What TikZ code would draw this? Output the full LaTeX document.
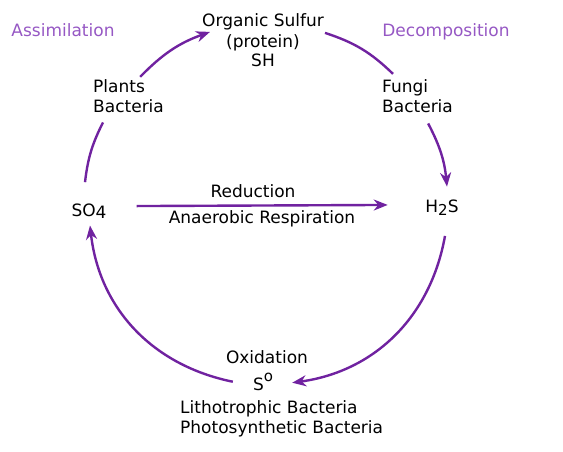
\documentclass[tikz,border=0pt]{standalone}
\usepackage{fontspec}
\setmainfont{DejaVu Sans}
\usetikzlibrary{arrows.meta}
\definecolor{cyclepurple}{RGB}{112,34,160}
\definecolor{labelpurple}{RGB}{150,88,196}
\begin{document}
\begin{tikzpicture}[x=1pt, y=1pt,
    font=\fontsize{17}{20}\selectfont,
    every node/.style={inner sep=0pt},
    cycle/.style={cyclepurple, line width=2.4pt},
    tip/.style={-{Stealth[length=14pt, width=11pt, inset=4.5pt]}},
    process/.style={text=labelpurple}]
% keep the frame of the reference
\useasboundingbox (0,0) rectangle (563,-452);

% process names
\node[process, anchor=base] (assim) at (63,-37) {Assimilation};
\node[process, anchor=base] (decomp) at (446,-37) {Decomposition};

% sulfur compounds and organisms (base = last line)
\node[align=center, anchor=base] (organic) at (263,-67) {Organic Sulfur\\(protein)\\SH};
\node[align=left, anchor=base west] (plants) at (93,-113) {Plants\\Bacteria};
\node[align=left, anchor=base west] (fungi) at (382,-113) {Fungi\\Bacteria};
\node[anchor=base] (so4) at (89,-216) {SO\raisebox{-.25ex}{4}};
\node[anchor=base] (h2s) at (442,-212) {H\raisebox{-.4ex}{\fontsize{15}{15}\selectfont 2}S};
\node[anchor=base] (reduct) at (253,-197) {Reduction};
\node[anchor=base] (anaer) at (262,-223) {Anaerobic Respiration};
\node[anchor=base] (oxid) at (267,-363) {Oxidation};
\node[anchor=base] (s0) at (263,-390) {S\raisebox{.9ex}{\fontsize{15}{15}\selectfont o}};
\node[align=left, anchor=base west] (litho) at (180,-433) {Lithotrophic Bacteria\\Photosynthetic Bacteria};

% the cycle
\draw[cycle] ([shift={(-4,21)}]so4.north) to[bend left=10] ([shift={(10,-9)}]plants.south west);
\draw[cycle, tip] ([shift={(11.6,3)}]plants.north) to[bend left=13] ([shift={(8,-18)}]organic.north west);
\draw[cycle] ([shift={(1,-19)}]organic.north east) to[bend left=13] ([shift={(11,6)}]fungi.north west);
\draw[cycle, tip] ([shift={(10.6,-10)}]fungi.south) to[bend left=11] ([shift={(5,12.6)}]h2s.north);
\draw[cycle, tip] ([shift={(3,-20)}]h2s.south) to[bend left=36] ([shift={(19,-1)}]s0.east);
\draw[cycle, tip] ([shift={(-20,0)}]s0.west) to[bend left=36] ([shift={(1,-7)}]so4.south);
\draw[cycle, tip] ([shift={(30,4.8)}]so4.east) -- ([shift={(-37.5,2.6)}]h2s.west);
\end{tikzpicture}
\end{document}
